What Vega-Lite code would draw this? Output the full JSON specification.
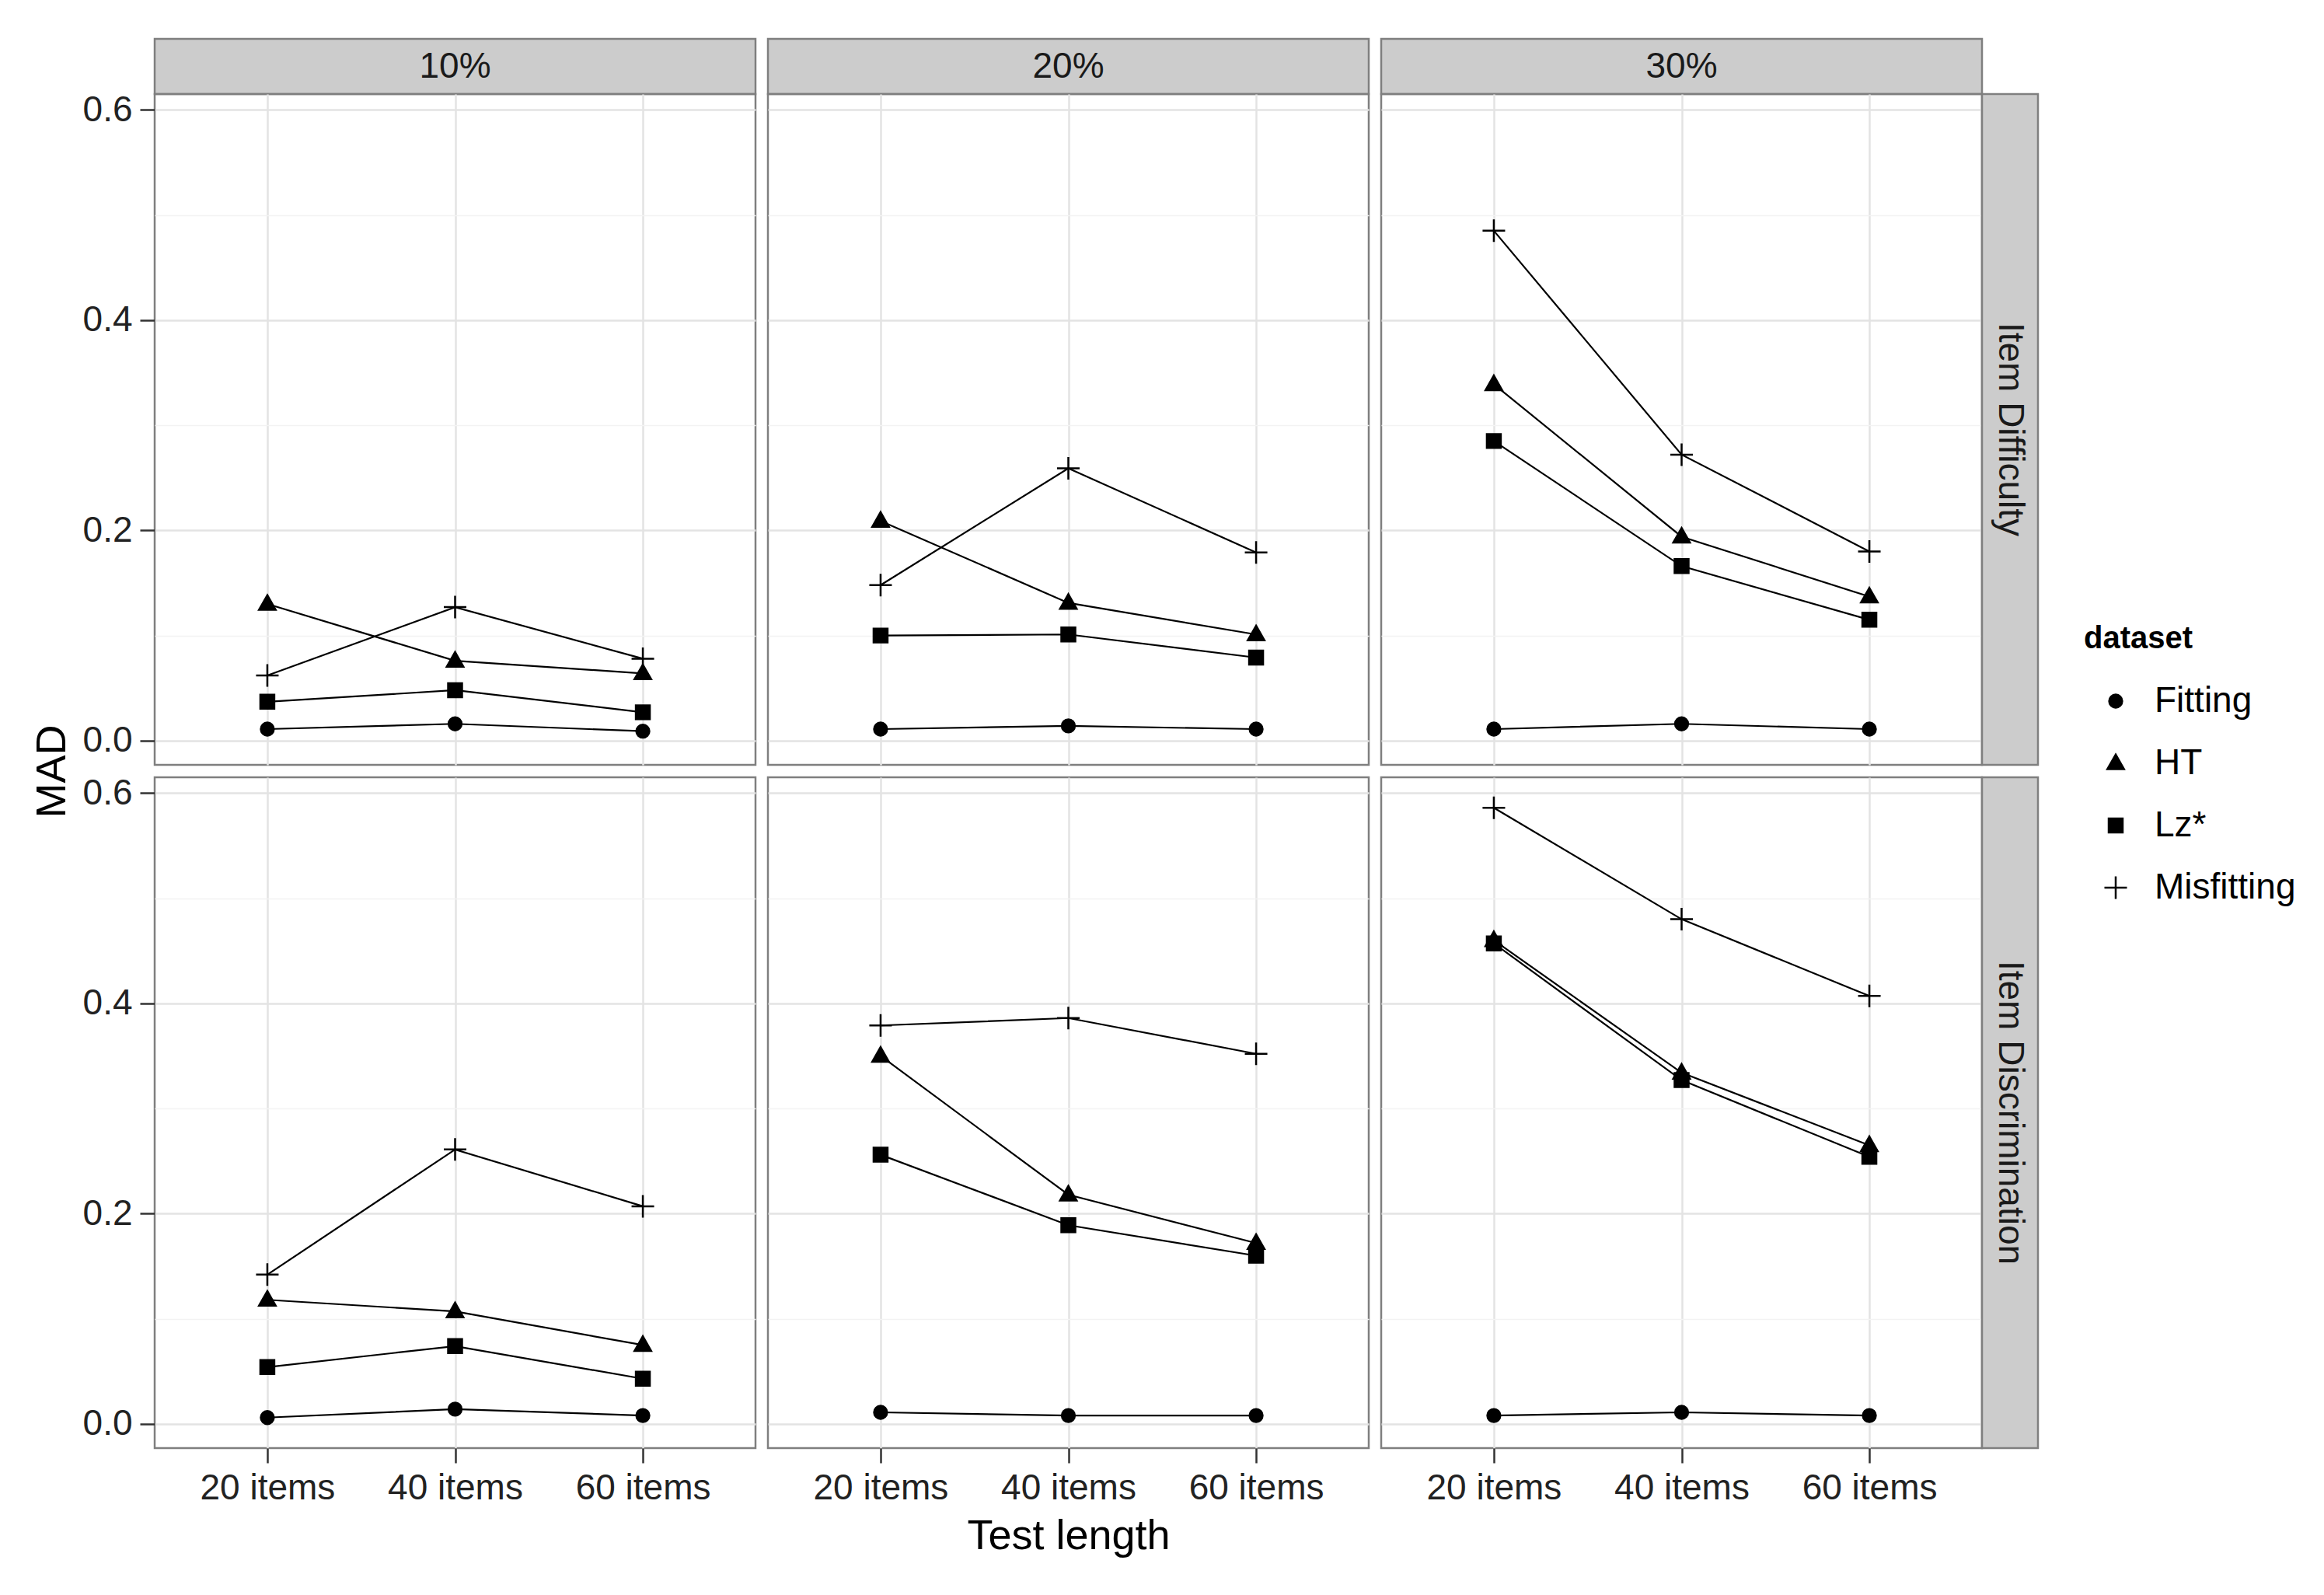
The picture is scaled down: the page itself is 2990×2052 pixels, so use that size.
{
  "$schema": "https://vega.github.io/schema/vega-lite/v6.json",
  "background": "white",
  "padding": {"left": 38, "top": 48, "right": 20, "bottom": 20},
  "datasets": {
    "mad": [
      {"pct": "10%", "param": "Item Difficulty", "len": "20 items", "dataset": "Fitting", "mad": 0.011},
      {"pct": "10%", "param": "Item Difficulty", "len": "40 items", "dataset": "Fitting", "mad": 0.016},
      {"pct": "10%", "param": "Item Difficulty", "len": "60 items", "dataset": "Fitting", "mad": 0.009},
      {"pct": "10%", "param": "Item Difficulty", "len": "20 items", "dataset": "HT", "mad": 0.130},
      {"pct": "10%", "param": "Item Difficulty", "len": "40 items", "dataset": "HT", "mad": 0.076},
      {"pct": "10%", "param": "Item Difficulty", "len": "60 items", "dataset": "HT", "mad": 0.064},
      {"pct": "10%", "param": "Item Difficulty", "len": "20 items", "dataset": "Lz*", "mad": 0.037},
      {"pct": "10%", "param": "Item Difficulty", "len": "40 items", "dataset": "Lz*", "mad": 0.048},
      {"pct": "10%", "param": "Item Difficulty", "len": "60 items", "dataset": "Lz*", "mad": 0.027},
      {"pct": "10%", "param": "Item Difficulty", "len": "20 items", "dataset": "Misfitting", "mad": 0.062},
      {"pct": "10%", "param": "Item Difficulty", "len": "40 items", "dataset": "Misfitting", "mad": 0.127},
      {"pct": "10%", "param": "Item Difficulty", "len": "60 items", "dataset": "Misfitting", "mad": 0.078},
      {"pct": "20%", "param": "Item Difficulty", "len": "20 items", "dataset": "Fitting", "mad": 0.011},
      {"pct": "20%", "param": "Item Difficulty", "len": "40 items", "dataset": "Fitting", "mad": 0.014},
      {"pct": "20%", "param": "Item Difficulty", "len": "60 items", "dataset": "Fitting", "mad": 0.011},
      {"pct": "20%", "param": "Item Difficulty", "len": "20 items", "dataset": "HT", "mad": 0.209},
      {"pct": "20%", "param": "Item Difficulty", "len": "40 items", "dataset": "HT", "mad": 0.131},
      {"pct": "20%", "param": "Item Difficulty", "len": "60 items", "dataset": "HT", "mad": 0.101},
      {"pct": "20%", "param": "Item Difficulty", "len": "20 items", "dataset": "Lz*", "mad": 0.100},
      {"pct": "20%", "param": "Item Difficulty", "len": "40 items", "dataset": "Lz*", "mad": 0.101},
      {"pct": "20%", "param": "Item Difficulty", "len": "60 items", "dataset": "Lz*", "mad": 0.079},
      {"pct": "20%", "param": "Item Difficulty", "len": "20 items", "dataset": "Misfitting", "mad": 0.148},
      {"pct": "20%", "param": "Item Difficulty", "len": "40 items", "dataset": "Misfitting", "mad": 0.259},
      {"pct": "20%", "param": "Item Difficulty", "len": "60 items", "dataset": "Misfitting", "mad": 0.179},
      {"pct": "30%", "param": "Item Difficulty", "len": "20 items", "dataset": "Fitting", "mad": 0.011},
      {"pct": "30%", "param": "Item Difficulty", "len": "40 items", "dataset": "Fitting", "mad": 0.016},
      {"pct": "30%", "param": "Item Difficulty", "len": "60 items", "dataset": "Fitting", "mad": 0.011},
      {"pct": "30%", "param": "Item Difficulty", "len": "20 items", "dataset": "HT", "mad": 0.339},
      {"pct": "30%", "param": "Item Difficulty", "len": "40 items", "dataset": "HT", "mad": 0.194},
      {"pct": "30%", "param": "Item Difficulty", "len": "60 items", "dataset": "HT", "mad": 0.137},
      {"pct": "30%", "param": "Item Difficulty", "len": "20 items", "dataset": "Lz*", "mad": 0.285},
      {"pct": "30%", "param": "Item Difficulty", "len": "40 items", "dataset": "Lz*", "mad": 0.166},
      {"pct": "30%", "param": "Item Difficulty", "len": "60 items", "dataset": "Lz*", "mad": 0.115},
      {"pct": "30%", "param": "Item Difficulty", "len": "20 items", "dataset": "Misfitting", "mad": 0.485},
      {"pct": "30%", "param": "Item Difficulty", "len": "40 items", "dataset": "Misfitting", "mad": 0.272},
      {"pct": "30%", "param": "Item Difficulty", "len": "60 items", "dataset": "Misfitting", "mad": 0.180},
      {"pct": "10%", "param": "Item Discrimination", "len": "20 items", "dataset": "Fitting", "mad": 0.006},
      {"pct": "10%", "param": "Item Discrimination", "len": "40 items", "dataset": "Fitting", "mad": 0.014},
      {"pct": "10%", "param": "Item Discrimination", "len": "60 items", "dataset": "Fitting", "mad": 0.008},
      {"pct": "10%", "param": "Item Discrimination", "len": "20 items", "dataset": "HT", "mad": 0.118},
      {"pct": "10%", "param": "Item Discrimination", "len": "40 items", "dataset": "HT", "mad": 0.107},
      {"pct": "10%", "param": "Item Discrimination", "len": "60 items", "dataset": "HT", "mad": 0.075},
      {"pct": "10%", "param": "Item Discrimination", "len": "20 items", "dataset": "Lz*", "mad": 0.054},
      {"pct": "10%", "param": "Item Discrimination", "len": "40 items", "dataset": "Lz*", "mad": 0.074},
      {"pct": "10%", "param": "Item Discrimination", "len": "60 items", "dataset": "Lz*", "mad": 0.043},
      {"pct": "10%", "param": "Item Discrimination", "len": "20 items", "dataset": "Misfitting", "mad": 0.142},
      {"pct": "10%", "param": "Item Discrimination", "len": "40 items", "dataset": "Misfitting", "mad": 0.261},
      {"pct": "10%", "param": "Item Discrimination", "len": "60 items", "dataset": "Misfitting", "mad": 0.207},
      {"pct": "20%", "param": "Item Discrimination", "len": "20 items", "dataset": "Fitting", "mad": 0.011},
      {"pct": "20%", "param": "Item Discrimination", "len": "40 items", "dataset": "Fitting", "mad": 0.008},
      {"pct": "20%", "param": "Item Discrimination", "len": "60 items", "dataset": "Fitting", "mad": 0.008},
      {"pct": "20%", "param": "Item Discrimination", "len": "20 items", "dataset": "HT", "mad": 0.350},
      {"pct": "20%", "param": "Item Discrimination", "len": "40 items", "dataset": "HT", "mad": 0.218},
      {"pct": "20%", "param": "Item Discrimination", "len": "60 items", "dataset": "HT", "mad": 0.172},
      {"pct": "20%", "param": "Item Discrimination", "len": "20 items", "dataset": "Lz*", "mad": 0.256},
      {"pct": "20%", "param": "Item Discrimination", "len": "40 items", "dataset": "Lz*", "mad": 0.189},
      {"pct": "20%", "param": "Item Discrimination", "len": "60 items", "dataset": "Lz*", "mad": 0.160},
      {"pct": "20%", "param": "Item Discrimination", "len": "20 items", "dataset": "Misfitting", "mad": 0.379},
      {"pct": "20%", "param": "Item Discrimination", "len": "40 items", "dataset": "Misfitting", "mad": 0.386},
      {"pct": "20%", "param": "Item Discrimination", "len": "60 items", "dataset": "Misfitting", "mad": 0.352},
      {"pct": "30%", "param": "Item Discrimination", "len": "20 items", "dataset": "Fitting", "mad": 0.008},
      {"pct": "30%", "param": "Item Discrimination", "len": "40 items", "dataset": "Fitting", "mad": 0.011},
      {"pct": "30%", "param": "Item Discrimination", "len": "60 items", "dataset": "Fitting", "mad": 0.008},
      {"pct": "30%", "param": "Item Discrimination", "len": "20 items", "dataset": "HT", "mad": 0.460},
      {"pct": "30%", "param": "Item Discrimination", "len": "40 items", "dataset": "HT", "mad": 0.334},
      {"pct": "30%", "param": "Item Discrimination", "len": "60 items", "dataset": "HT", "mad": 0.265},
      {"pct": "30%", "param": "Item Discrimination", "len": "20 items", "dataset": "Lz*", "mad": 0.457},
      {"pct": "30%", "param": "Item Discrimination", "len": "40 items", "dataset": "Lz*", "mad": 0.327},
      {"pct": "30%", "param": "Item Discrimination", "len": "60 items", "dataset": "Lz*", "mad": 0.254},
      {"pct": "30%", "param": "Item Discrimination", "len": "20 items", "dataset": "Misfitting", "mad": 0.586},
      {"pct": "30%", "param": "Item Discrimination", "len": "40 items", "dataset": "Misfitting", "mad": 0.480},
      {"pct": "30%", "param": "Item Discrimination", "len": "60 items", "dataset": "Misfitting", "mad": 0.407}
    ]
  },
  "columns": 6,
  "spacing": {"row": 0, "column": 0},
  "align": "each",
  "bounds": "flush",
  "concat": [
    {"width": 773, "height": 71, "data": {"values": [{"label": "10%"}]}, "mark": {"type": "text", "fontSize": 46, "color": "#1a1a1a"}, "encoding": {"text": {"field": "label", "type": "nominal"}}, "view": {"fill": "#cccccc", "stroke": "#7f7f7f", "strokeWidth": 2.5}},
    {"width": 16, "height": 1, "data": {"values": []}, "mark": "text", "view": {"stroke": null}},
    {"width": 773, "height": 71, "data": {"values": [{"label": "20%"}]}, "mark": {"type": "text", "fontSize": 46, "color": "#1a1a1a"}, "encoding": {"text": {"field": "label", "type": "nominal"}}, "view": {"fill": "#cccccc", "stroke": "#7f7f7f", "strokeWidth": 2.5}},
    {"width": 16, "height": 1, "data": {"values": []}, "mark": "text", "view": {"stroke": null}},
    {"width": 773, "height": 71, "data": {"values": [{"label": "30%"}]}, "mark": {"type": "text", "fontSize": 46, "color": "#1a1a1a"}, "encoding": {"text": {"field": "label", "type": "nominal"}}, "view": {"fill": "#cccccc", "stroke": "#7f7f7f", "strokeWidth": 2.5}},
    {"width": 1, "height": 1, "data": {"values": []}, "mark": "text", "view": {"stroke": null}},

    {"width": 773, "height": 863, "data": {"name": "mad"},
     "transform": [{"filter": {"and": [{"field": "pct", "equal": "10%"}, {"field": "param", "equal": "Item Difficulty"}]}}],
     "encoding": {
       "x": {"field": "len", "type": "ordinal", "scale": {"type": "point", "padding": 0.6, "domain": ["20 items", "40 items", "60 items"]}, "axis": {"labels": false, "ticks": false, "domain": false, "title": null, "grid": true}},
       "y": {"field": "mad", "type": "quantitative", "scale": {"domain": [-0.023, 0.615], "nice": false, "zero": false},
             "axis": {"values": [0, 0.1, 0.2, 0.3, 0.4, 0.5, 0.6], "title": "MAD", "titlePadding": 12, "titleY": 871, "grid": true, "labelPadding": 10,
                      "labelExpr": "round(datum.value*10) % 2 == 1 ? '' : format(datum.value, '.1f')",
                      "tickOpacity": {"condition": {"test": "round(datum.value*10) % 2 == 1", "value": 0}, "value": 1},
                      "gridColor": {"condition": {"test": "round(datum.value*10) % 2 == 1", "value": "#f3f3f3"}, "value": "#e3e3e3"},
                      "gridWidth": {"condition": {"test": "round(datum.value*10) % 2 == 1", "value": 1.5}, "value": 2.5}}}
     },
     "layer": [
       {"mark": {"type": "line", "color": "black", "strokeWidth": 2.2}, "encoding": {"detail": {"field": "dataset", "type": "nominal"}}},
       {"mark": {"type": "point", "filled": true, "opacity": 1, "stroke": "black", "strokeWidth": 2.5, "size": 841},
        "encoding": {
          "shape": {"field": "dataset", "type": "nominal", "scale": {"domain": ["Fitting", "HT", "Lz*", "Misfitting"], "range": ["M0.58,0A0.58,0.58,0,1,1,-0.58,0A0.58,0.58,0,1,1,0.58,0Z", "M0,-0.78L0.74,0.52L-0.74,0.52Z", "M-0.62,-0.62H0.62V0.62H-0.62Z", "M-1,0H1M0,-1V1"]}, "legend": {"title": "dataset", "orient": "none", "legendX": 2482, "legendY": 752, "encode": {"symbols": {"update": {"stroke": {"value": "black"}, "strokeWidth": {"value": 2.5}}}}}},
          "fill": {"field": "dataset", "type": "nominal", "scale": {"domain": ["Fitting", "HT", "Lz*", "Misfitting"], "range": ["black", "black", "black", "transparent"]}, "legend": {"title": "dataset", "orient": "none", "legendX": 2482, "legendY": 752, "encode": {"symbols": {"update": {"stroke": {"value": "black"}, "strokeWidth": {"value": 2.5}}}}}}
        }}
     ]},
    {"width": 16, "height": 1, "data": {"values": []}, "mark": "text", "view": {"stroke": null}},
    {"width": 773, "height": 863, "data": {"name": "mad"},
     "transform": [{"filter": {"and": [{"field": "pct", "equal": "20%"}, {"field": "param", "equal": "Item Difficulty"}]}}],
     "encoding": {
       "x": {"field": "len", "type": "ordinal", "scale": {"type": "point", "padding": 0.6, "domain": ["20 items", "40 items", "60 items"]}, "axis": {"labels": false, "ticks": false, "domain": false, "title": null, "grid": true}},
       "y": {"field": "mad", "type": "quantitative", "scale": {"domain": [-0.023, 0.615], "nice": false, "zero": false},
             "axis": {"values": [0, 0.1, 0.2, 0.3, 0.4, 0.5, 0.6], "labels": false, "ticks": false, "domain": false, "title": null, "grid": true,
                      "gridColor": {"condition": {"test": "round(datum.value*10) % 2 == 1", "value": "#f3f3f3"}, "value": "#e3e3e3"},
                      "gridWidth": {"condition": {"test": "round(datum.value*10) % 2 == 1", "value": 1.5}, "value": 2.5}}}
     },
     "layer": [
       {"mark": {"type": "line", "color": "black", "strokeWidth": 2.2}, "encoding": {"detail": {"field": "dataset", "type": "nominal"}}},
       {"mark": {"type": "point", "filled": true, "opacity": 1, "stroke": "black", "strokeWidth": 2.5, "size": 841},
        "encoding": {
          "shape": {"field": "dataset", "type": "nominal", "scale": {"domain": ["Fitting", "HT", "Lz*", "Misfitting"], "range": ["M0.58,0A0.58,0.58,0,1,1,-0.58,0A0.58,0.58,0,1,1,0.58,0Z", "M0,-0.78L0.74,0.52L-0.74,0.52Z", "M-0.62,-0.62H0.62V0.62H-0.62Z", "M-1,0H1M0,-1V1"]}, "legend": {"title": "dataset", "orient": "none", "legendX": 2482, "legendY": 752, "encode": {"symbols": {"update": {"stroke": {"value": "black"}, "strokeWidth": {"value": 2.5}}}}}},
          "fill": {"field": "dataset", "type": "nominal", "scale": {"domain": ["Fitting", "HT", "Lz*", "Misfitting"], "range": ["black", "black", "black", "transparent"]}, "legend": {"title": "dataset", "orient": "none", "legendX": 2482, "legendY": 752, "encode": {"symbols": {"update": {"stroke": {"value": "black"}, "strokeWidth": {"value": 2.5}}}}}}
        }}
     ]},
    {"width": 16, "height": 1, "data": {"values": []}, "mark": "text", "view": {"stroke": null}},
    {"width": 773, "height": 863, "data": {"name": "mad"},
     "transform": [{"filter": {"and": [{"field": "pct", "equal": "30%"}, {"field": "param", "equal": "Item Difficulty"}]}}],
     "encoding": {
       "x": {"field": "len", "type": "ordinal", "scale": {"type": "point", "padding": 0.6, "domain": ["20 items", "40 items", "60 items"]}, "axis": {"labels": false, "ticks": false, "domain": false, "title": null, "grid": true}},
       "y": {"field": "mad", "type": "quantitative", "scale": {"domain": [-0.023, 0.615], "nice": false, "zero": false},
             "axis": {"values": [0, 0.1, 0.2, 0.3, 0.4, 0.5, 0.6], "labels": false, "ticks": false, "domain": false, "title": null, "grid": true,
                      "gridColor": {"condition": {"test": "round(datum.value*10) % 2 == 1", "value": "#f3f3f3"}, "value": "#e3e3e3"},
                      "gridWidth": {"condition": {"test": "round(datum.value*10) % 2 == 1", "value": 1.5}, "value": 2.5}}}
     },
     "layer": [
       {"mark": {"type": "line", "color": "black", "strokeWidth": 2.2}, "encoding": {"detail": {"field": "dataset", "type": "nominal"}}},
       {"mark": {"type": "point", "filled": true, "opacity": 1, "stroke": "black", "strokeWidth": 2.5, "size": 841},
        "encoding": {
          "shape": {"field": "dataset", "type": "nominal", "scale": {"domain": ["Fitting", "HT", "Lz*", "Misfitting"], "range": ["M0.58,0A0.58,0.58,0,1,1,-0.58,0A0.58,0.58,0,1,1,0.58,0Z", "M0,-0.78L0.74,0.52L-0.74,0.52Z", "M-0.62,-0.62H0.62V0.62H-0.62Z", "M-1,0H1M0,-1V1"]}, "legend": {"title": "dataset", "orient": "none", "legendX": 2482, "legendY": 752, "encode": {"symbols": {"update": {"stroke": {"value": "black"}, "strokeWidth": {"value": 2.5}}}}}},
          "fill": {"field": "dataset", "type": "nominal", "scale": {"domain": ["Fitting", "HT", "Lz*", "Misfitting"], "range": ["black", "black", "black", "transparent"]}, "legend": {"title": "dataset", "orient": "none", "legendX": 2482, "legendY": 752, "encode": {"symbols": {"update": {"stroke": {"value": "black"}, "strokeWidth": {"value": 2.5}}}}}}
        }}
     ]},
    {"width": 72, "height": 863, "data": {"values": [{"label": "Item Difficulty"}]}, "mark": {"type": "text", "fontSize": 46, "color": "#1a1a1a", "angle": 90}, "encoding": {"text": {"field": "label", "type": "nominal"}}, "view": {"fill": "#cccccc", "stroke": "#7f7f7f", "strokeWidth": 2.5}},

    {"width": 1, "height": 16, "data": {"values": []}, "mark": "text", "view": {"stroke": null}},
    {"width": 1, "height": 1, "data": {"values": []}, "mark": "text", "view": {"stroke": null}},
    {"width": 1, "height": 1, "data": {"values": []}, "mark": "text", "view": {"stroke": null}},
    {"width": 1, "height": 1, "data": {"values": []}, "mark": "text", "view": {"stroke": null}},
    {"width": 1, "height": 1, "data": {"values": []}, "mark": "text", "view": {"stroke": null}},
    {"width": 1, "height": 1, "data": {"values": []}, "mark": "text", "view": {"stroke": null}},

    {"width": 773, "height": 863, "data": {"name": "mad"},
     "transform": [{"filter": {"and": [{"field": "pct", "equal": "10%"}, {"field": "param", "equal": "Item Discrimination"}]}}],
     "encoding": {
       "x": {"field": "len", "type": "ordinal", "scale": {"type": "point", "padding": 0.6, "domain": ["20 items", "40 items", "60 items"]}, "axis": {"title": null, "grid": true, "labelAngle": 0, "labelPadding": 10}},
       "y": {"field": "mad", "type": "quantitative", "scale": {"domain": [-0.023, 0.615], "nice": false, "zero": false},
             "axis": {"values": [0, 0.1, 0.2, 0.3, 0.4, 0.5, 0.6], "title": null, "grid": true, "labelPadding": 10,
                      "labelExpr": "round(datum.value*10) % 2 == 1 ? '' : format(datum.value, '.1f')",
                      "tickOpacity": {"condition": {"test": "round(datum.value*10) % 2 == 1", "value": 0}, "value": 1},
                      "gridColor": {"condition": {"test": "round(datum.value*10) % 2 == 1", "value": "#f3f3f3"}, "value": "#e3e3e3"},
                      "gridWidth": {"condition": {"test": "round(datum.value*10) % 2 == 1", "value": 1.5}, "value": 2.5}}}
     },
     "layer": [
       {"mark": {"type": "line", "color": "black", "strokeWidth": 2.2}, "encoding": {"detail": {"field": "dataset", "type": "nominal"}}},
       {"mark": {"type": "point", "filled": true, "opacity": 1, "stroke": "black", "strokeWidth": 2.5, "size": 841},
        "encoding": {
          "shape": {"field": "dataset", "type": "nominal", "scale": {"domain": ["Fitting", "HT", "Lz*", "Misfitting"], "range": ["M0.58,0A0.58,0.58,0,1,1,-0.58,0A0.58,0.58,0,1,1,0.58,0Z", "M0,-0.78L0.74,0.52L-0.74,0.52Z", "M-0.62,-0.62H0.62V0.62H-0.62Z", "M-1,0H1M0,-1V1"]}, "legend": {"title": "dataset", "orient": "none", "legendX": 2482, "legendY": 752, "encode": {"symbols": {"update": {"stroke": {"value": "black"}, "strokeWidth": {"value": 2.5}}}}}},
          "fill": {"field": "dataset", "type": "nominal", "scale": {"domain": ["Fitting", "HT", "Lz*", "Misfitting"], "range": ["black", "black", "black", "transparent"]}, "legend": {"title": "dataset", "orient": "none", "legendX": 2482, "legendY": 752, "encode": {"symbols": {"update": {"stroke": {"value": "black"}, "strokeWidth": {"value": 2.5}}}}}}
        }}
     ]},
    {"width": 16, "height": 1, "data": {"values": []}, "mark": "text", "view": {"stroke": null}},
    {"width": 773, "height": 863, "data": {"name": "mad"},
     "transform": [{"filter": {"and": [{"field": "pct", "equal": "20%"}, {"field": "param", "equal": "Item Discrimination"}]}}],
     "encoding": {
       "x": {"field": "len", "type": "ordinal", "scale": {"type": "point", "padding": 0.6, "domain": ["20 items", "40 items", "60 items"]}, "axis": {"title": "Test length", "titlePadding": 12, "grid": true, "labelAngle": 0, "labelPadding": 10}},
       "y": {"field": "mad", "type": "quantitative", "scale": {"domain": [-0.023, 0.615], "nice": false, "zero": false},
             "axis": {"values": [0, 0.1, 0.2, 0.3, 0.4, 0.5, 0.6], "labels": false, "ticks": false, "domain": false, "title": null, "grid": true,
                      "gridColor": {"condition": {"test": "round(datum.value*10) % 2 == 1", "value": "#f3f3f3"}, "value": "#e3e3e3"},
                      "gridWidth": {"condition": {"test": "round(datum.value*10) % 2 == 1", "value": 1.5}, "value": 2.5}}}
     },
     "layer": [
       {"mark": {"type": "line", "color": "black", "strokeWidth": 2.2}, "encoding": {"detail": {"field": "dataset", "type": "nominal"}}},
       {"mark": {"type": "point", "filled": true, "opacity": 1, "stroke": "black", "strokeWidth": 2.5, "size": 841},
        "encoding": {
          "shape": {"field": "dataset", "type": "nominal", "scale": {"domain": ["Fitting", "HT", "Lz*", "Misfitting"], "range": ["M0.58,0A0.58,0.58,0,1,1,-0.58,0A0.58,0.58,0,1,1,0.58,0Z", "M0,-0.78L0.74,0.52L-0.74,0.52Z", "M-0.62,-0.62H0.62V0.62H-0.62Z", "M-1,0H1M0,-1V1"]}, "legend": {"title": "dataset", "orient": "none", "legendX": 2482, "legendY": 752, "encode": {"symbols": {"update": {"stroke": {"value": "black"}, "strokeWidth": {"value": 2.5}}}}}},
          "fill": {"field": "dataset", "type": "nominal", "scale": {"domain": ["Fitting", "HT", "Lz*", "Misfitting"], "range": ["black", "black", "black", "transparent"]}, "legend": {"title": "dataset", "orient": "none", "legendX": 2482, "legendY": 752, "encode": {"symbols": {"update": {"stroke": {"value": "black"}, "strokeWidth": {"value": 2.5}}}}}}
        }}
     ]},
    {"width": 16, "height": 1, "data": {"values": []}, "mark": "text", "view": {"stroke": null}},
    {"width": 773, "height": 863, "data": {"name": "mad"},
     "transform": [{"filter": {"and": [{"field": "pct", "equal": "30%"}, {"field": "param", "equal": "Item Discrimination"}]}}],
     "encoding": {
       "x": {"field": "len", "type": "ordinal", "scale": {"type": "point", "padding": 0.6, "domain": ["20 items", "40 items", "60 items"]}, "axis": {"title": null, "grid": true, "labelAngle": 0, "labelPadding": 10}},
       "y": {"field": "mad", "type": "quantitative", "scale": {"domain": [-0.023, 0.615], "nice": false, "zero": false},
             "axis": {"values": [0, 0.1, 0.2, 0.3, 0.4, 0.5, 0.6], "labels": false, "ticks": false, "domain": false, "title": null, "grid": true,
                      "gridColor": {"condition": {"test": "round(datum.value*10) % 2 == 1", "value": "#f3f3f3"}, "value": "#e3e3e3"},
                      "gridWidth": {"condition": {"test": "round(datum.value*10) % 2 == 1", "value": 1.5}, "value": 2.5}}}
     },
     "layer": [
       {"mark": {"type": "line", "color": "black", "strokeWidth": 2.2}, "encoding": {"detail": {"field": "dataset", "type": "nominal"}}},
       {"mark": {"type": "point", "filled": true, "opacity": 1, "stroke": "black", "strokeWidth": 2.5, "size": 841},
        "encoding": {
          "shape": {"field": "dataset", "type": "nominal", "scale": {"domain": ["Fitting", "HT", "Lz*", "Misfitting"], "range": ["M0.58,0A0.58,0.58,0,1,1,-0.58,0A0.58,0.58,0,1,1,0.58,0Z", "M0,-0.78L0.74,0.52L-0.74,0.52Z", "M-0.62,-0.62H0.62V0.62H-0.62Z", "M-1,0H1M0,-1V1"]}, "legend": {"title": "dataset", "orient": "none", "legendX": 2482, "legendY": 752, "encode": {"symbols": {"update": {"stroke": {"value": "black"}, "strokeWidth": {"value": 2.5}}}}}},
          "fill": {"field": "dataset", "type": "nominal", "scale": {"domain": ["Fitting", "HT", "Lz*", "Misfitting"], "range": ["black", "black", "black", "transparent"]}, "legend": {"title": "dataset", "orient": "none", "legendX": 2482, "legendY": 752, "encode": {"symbols": {"update": {"stroke": {"value": "black"}, "strokeWidth": {"value": 2.5}}}}}}
        }}
     ]},
    {"width": 72, "height": 863, "data": {"values": [{"label": "Item Discrimination"}]}, "mark": {"type": "text", "fontSize": 46, "color": "#1a1a1a", "angle": 90}, "encoding": {"text": {"field": "label", "type": "nominal"}}, "view": {"fill": "#cccccc", "stroke": "#7f7f7f", "strokeWidth": 2.5}}
  ],
  "config": {
    "font": "Liberation Sans",
    "view": {"stroke": "#7f7f7f", "strokeWidth": 2.5},
    "axis": {"domain": false, "tickColor": "#333333", "tickSize": 19, "tickWidth": 2.5, "labelFont": "Liberation Sans", "labelFontSize": 46, "labelColor": "#222222", "titleFont": "Liberation Sans", "titleFontSize": 54, "titleFontWeight": "normal", "titleColor": "#000000", "gridColor": "#e3e3e3", "gridWidth": 2.5},
    "legend": {"titleFont": "Liberation Sans", "titleFontSize": 40, "titleFontWeight": "bold", "titleColor": "#000000", "labelFont": "Liberation Sans", "labelFontSize": 46, "labelColor": "#000000", "labelLimit": 500, "symbolSize": 841, "symbolStrokeColor": "black", "symbolStrokeWidth": 2.5, "symbolOffset": 18, "labelOffset": 27, "rowPadding": 34, "titlePadding": 37, "padding": 0, "symbolOpacity": 1}
  }
}
